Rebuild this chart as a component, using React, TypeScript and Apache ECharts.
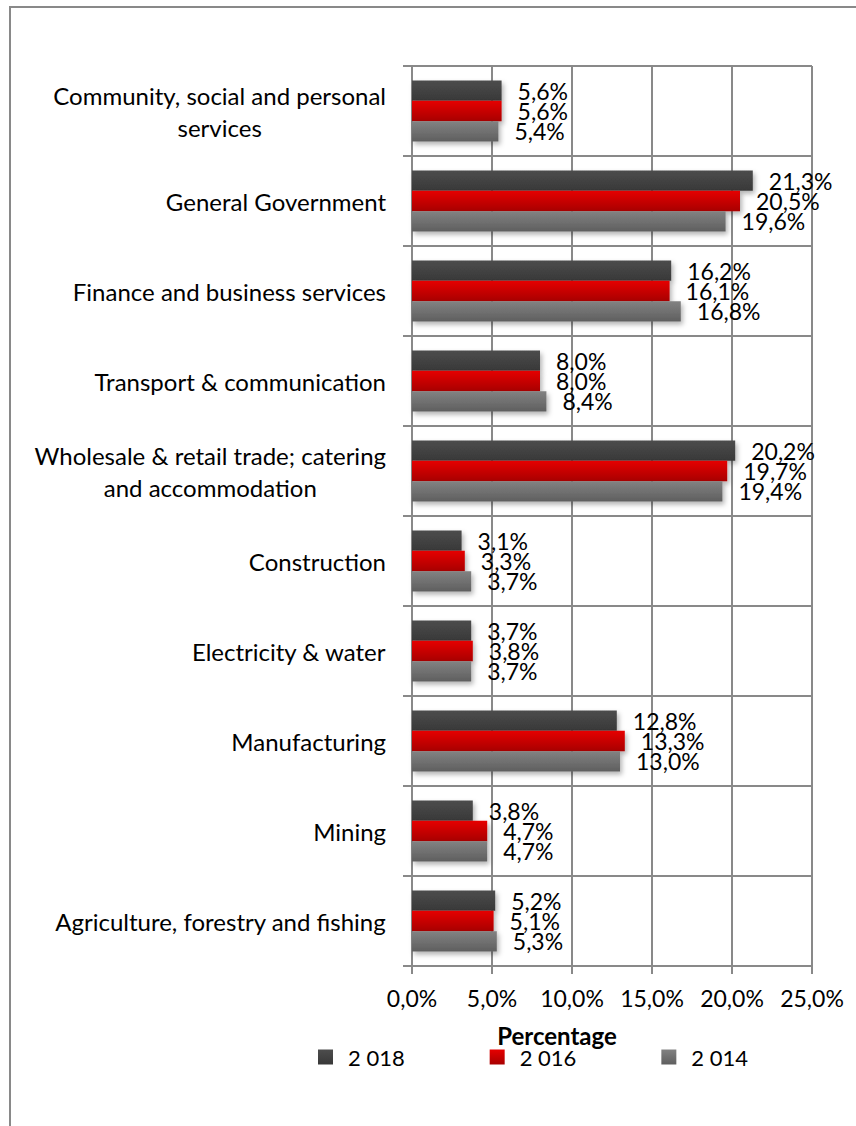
import React, { useEffect, useRef } from "react";
import * as echarts from "echarts";

const categories = [
  "Community, social and personal\nservices",
  "General Government",
  "Finance and business services",
  "Transport & communication",
  "Wholesale & retail trade; catering\nand accommodation",
  "Construction",
  "Electricity & water",
  "Manufacturing",
  "Mining",
  "Agriculture, forestry and fishing",
];
const seriesNames = ["2 018", "2 016", "2 014"];
const values2018 = [5.6, 21.3, 16.2, 8.0, 20.2, 3.1, 3.7, 12.8, 3.8, 5.2];
const values2016 = [5.6, 20.5, 16.1, 8.0, 19.7, 3.3, 3.8, 13.3, 4.7, 5.1];
const values2014 = [5.4, 19.6, 16.8, 8.4, 19.4, 3.7, 3.7, 13.0, 4.7, 5.3];
const xTicks = [0, 5, 10, 15, 20, 25];

const FONT = "Lato";

function grad(top: string, bottom: string) {
  return new echarts.graphic.LinearGradient(0, 0, 0, 1, [
    { offset: 0, color: top },
    { offset: 1, color: bottom },
  ]);
}

const colors = [
  grad("#4d4d4d", "#383838"),
  grad("#e60000", "#a80000"),
  grad("#828282", "#5f5f5f"),
];

const fmt = (v: number) => v.toFixed(1).replace(".", ",") + "%";

export default function App() {
  const ref = useRef<HTMLDivElement>(null);
  useEffect(() => {
    if (!ref.current) return;
    const chart = echarts.init(ref.current, null, { renderer: "svg" });
    const data = [values2018, values2016, values2014];
    chart.setOption({
      animation: false,
      backgroundColor: "#ffffff",
      textStyle: { fontFamily: FONT },
      graphic: [
        {
          type: "rect",
          shape: { x: 10, y: 7, width: 1000, height: 1300 },
          style: { fill: "none", stroke: "#898989", lineWidth: 2 },
          silent: true,
        },
      ],
      grid: { left: 412, right: 44, top: 66, bottom: 160 },
      legend: {
        top: 1041,
        left: 313,
        itemGap: 85,
        itemWidth: 15,
        itemHeight: 15,
        icon: "rect",
        data: seriesNames,
        textStyle: { fontSize: 22, color: "#000", fontFamily: FONT, padding: [0, 0, 0, 10] },
      },
      xAxis: {
        type: "value",
        min: 0,
        max: 25,
        interval: 5,
        name: "Percentage",
        nameLocation: "middle",
        nameGap: 57,
        nameTextStyle: {
          fontSize: 24,
          fontWeight: "bold",
          color: "#000",
          fontFamily: FONT,
          padding: [0, 110, 0, 0],
        },
        axisLine: { show: true, lineStyle: { color: "#898989", width: 2 } },
        axisTick: { show: true, length: 8, lineStyle: { color: "#898989", width: 2 } },
        axisLabel: {
          margin: 20,
          fontSize: 23,
          color: "#000",
          fontFamily: FONT,
          formatter: (v: number) => (xTicks.includes(v) ? fmt(v) : ""),
        },
        splitLine: { show: true, lineStyle: { color: "#898989", width: 2 } },
      },
      yAxis: {
        type: "category",
        inverse: true,
        data: categories,
        axisLine: { show: true, lineStyle: { color: "#898989", width: 2 } },
        axisTick: { show: true, length: 9, lineStyle: { color: "#898989", width: 2 } },
        splitLine: { show: true, lineStyle: { color: "#898989", width: 2 } },
        axisLabel: {
          margin: 26,
          fontSize: 24,
          color: "#000",
          fontFamily: FONT,
          lineHeight: 32,
          formatter: (v: string) =>
            v
              .split("\n")
              .map((l) => "{c|" + l + "}")
              .join("\n"),
          rich: {
            c: { align: "center", fontSize: 24, fontFamily: FONT, color: "#000", lineHeight: 32 },
          },
        },
      },
      series: seriesNames.map((name, i) => ({
        name,
        type: "bar",
        data: data[i],
        barGap: "0%",
        barCategoryGap: "32%",
        itemStyle: {
          color: colors[i],
          shadowBlur: 5,
          shadowOffsetX: 2,
          shadowOffsetY: 3,
          shadowColor: "rgba(0,0,0,0.3)",
        },
        label: {
          show: true,
          position: "right",
          distance: 16,
          fontSize: 23,
          color: "#000",
          fontFamily: FONT,
          formatter: (p: any) => fmt(p.value),
        },
      })),
    });
    return () => chart.dispose();
  }, []);
  return (
    <div
      ref={ref}
      style={{ position: "absolute", left: 0, top: 0, width: 856, height: 1126 }}
    />
  );
}
